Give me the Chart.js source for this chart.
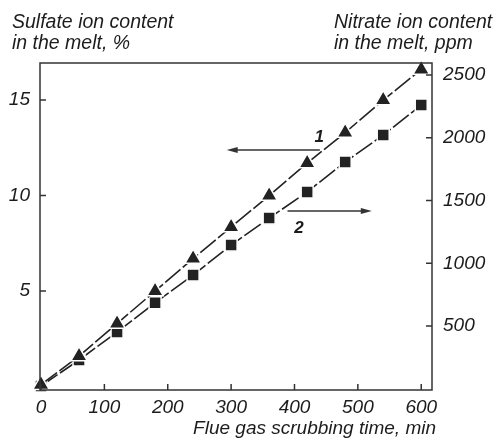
<!DOCTYPE html>
<html>
<head>
<meta charset="utf-8">
<script src="https://cdn.jsdelivr.net/npm/chart.js@4"></script>
<style>
  body { margin: 0; background: #fff; }
  #wrap { width: 494px; height: 439px; position: relative; }
</style>
</head>
<body>
<div id="wrap"><canvas id="grafico" width="494" height="439"></canvas></div>
<script>
// tempo de lavagem (min)
const tempos = [0, 60, 120, 180, 240, 300, 360, 420, 480, 540, 600];
// curva 1 - sulfato, % (eixo esquerdo)
const sulfato = [0.1, 1.6, 3.3, 5.0, 6.7, 8.35, 10.0, 11.7, 13.3, 15.0, 16.6];
// curva 2 - nitrato, ppm (eixo direito)
const nitrato = [22, 229, 452, 685, 906, 1145, 1360, 1568, 1807, 2022, 2261];

const ticksTempo = [0, 100, 200, 300, 400, 500, 600];
const ticksSulfato = [5, 10, 15];
const ticksNitrato = [500, 1000, 1500, 2000, 2500];

const corTraco = '#222';
const fonteEixo = { family: 'Liberation Sans', size: 19, style: 'italic' };

function pontos(valores) {
  return tempos.map((t, i) => ({ x: t, y: valores[i] }));
}

function fixaTicks(lista) {
  return function (scale) {
    scale.ticks = lista.map((v) => ({ value: v }));
  };
}

const moldura = {
  id: 'moldura',
  afterDraw(chart) {
    const ctx = chart.ctx;
    const a = chart.chartArea;
    const sx = chart.scales.x;
    const sy = chart.scales.y;
    const sy2 = chart.scales.y2;
    ctx.save();
    ctx.strokeStyle = '#333';
    ctx.lineWidth = 1.5;
    ctx.strokeRect(a.left, a.top, a.right - a.left, a.bottom - a.top);

    // marcas para dentro
    ctx.beginPath();
    ticksTempo.forEach((v) => {
      const px = sx.getPixelForValue(v);
      ctx.moveTo(px, a.bottom);
      ctx.lineTo(px, a.bottom - 6);
    });
    ticksSulfato.forEach((v) => {
      const py = sy.getPixelForValue(v);
      ctx.moveTo(a.left, py);
      ctx.lineTo(a.left + 6, py);
    });
    ticksNitrato.forEach((v) => {
      const py = sy2.getPixelForValue(v);
      ctx.moveTo(a.right, py);
      ctx.lineTo(a.right - 6, py);
    });
    ctx.stroke();

    // titulos
    ctx.fillStyle = '#1c1c1c';
    ctx.font = 'italic 19.5px "Liberation Sans"';
    ctx.textAlign = 'left';
    ctx.textBaseline = 'alphabetic';
    ctx.fillText('Sulfate ion content', 12, 28);
    ctx.fillText('in the melt, %', 12, 49);
    ctx.fillText('Nitrate ion content', 334, 28);
    ctx.fillText('in the melt, ppm', 334, 49);
    ctx.textAlign = 'right';
    ctx.font = 'italic 19px "Liberation Sans"';
    ctx.fillText('Flue gas scrubbing time, min', 436, 434);

    // rotulos das curvas
    ctx.font = 'italic bold 17px "Liberation Sans"';
    ctx.textAlign = 'center';
    ctx.textBaseline = 'middle';
    ctx.fillText('1', sx.getPixelForValue(439), sy.getPixelForValue(13.05));
    ctx.fillText('2', sx.getPixelForValue(407), sy2.getPixelForValue(1280));

    // setas
    seta(ctx, sx.getPixelForValue(440), sy.getPixelForValue(12.38), sx.getPixelForValue(293), sy.getPixelForValue(12.38));
    seta(ctx, sx.getPixelForValue(389), sy2.getPixelForValue(1416), sx.getPixelForValue(522), sy2.getPixelForValue(1416));
    ctx.restore();
  },
};

function seta(ctx, x1, y1, x2, y2) {
  const dir = x2 > x1 ? 1 : -1;
  ctx.strokeStyle = '#333';
  ctx.fillStyle = '#333';
  ctx.lineWidth = 1.5;
  ctx.beginPath();
  ctx.moveTo(x1, y1);
  ctx.lineTo(x2 - dir * 8, y2);
  ctx.stroke();
  ctx.beginPath();
  ctx.moveTo(x2, y2);
  ctx.lineTo(x2 - dir * 11, y2 - 3);
  ctx.lineTo(x2 - dir * 11, y2 + 3);
  ctx.closePath();
  ctx.fill();
}

const serieBase = {
  borderColor: corTraco,
  backgroundColor: corTraco,
  borderWidth: 1.6,
  borderDash: [20, 3],
  pointBorderColor: '#fff',
  pointBorderWidth: 1.5,
  showLine: true,
  tension: 0,
  clip: false,
};

const rotuloSimples = (v) => String(v);

new Chart(document.getElementById('grafico'), {
  type: 'scatter',
  data: {
    datasets: [
      Object.assign({}, serieBase, {
        label: '1',
        data: pontos(sulfato),
        yAxisID: 'y',
        pointStyle: 'triangle',
        pointRadius: 9.5,
      }),
      Object.assign({}, serieBase, {
        label: '2',
        data: pontos(nitrato),
        yAxisID: 'y2',
        pointStyle: 'rect',
        pointRadius: 8.5,
      }),
    ],
  },
  options: {
    responsive: false,
    animation: false,
    layout: { padding: { top: 63, left: 0, right: 0, bottom: 0 } },
    plugins: {
      legend: { display: false },
      tooltip: { enabled: false },
    },
    scales: {
      x: {
        type: 'linear',
        min: -1.6,
        max: 617,
        afterBuildTicks: fixaTicks(ticksTempo),
        afterFit: (scale) => { scale.height = 49; },
        grid: { display: false, drawTicks: false },
        border: { display: false },
        ticks: { font: fonteEixo, color: '#1c1c1c', padding: 6, maxRotation: 0, callback: rotuloSimples },
      },
      y: {
        position: 'left',
        min: -0.18,
        max: 16.94,
        afterBuildTicks: fixaTicks(ticksSulfato),
        afterFit: (scale) => { scale.width = 40; },
        grid: { display: false, drawTicks: false },
        border: { display: false },
        ticks: { font: fonteEixo, color: '#1c1c1c', padding: 10, callback: rotuloSimples },
      },
      y2: {
        position: 'right',
        min: -10,
        max: 2596,
        afterBuildTicks: fixaTicks(ticksNitrato),
        afterFit: (scale) => { scale.width = 62; },
        grid: { display: false, drawTicks: false },
        border: { display: false },
        ticks: { font: fonteEixo, color: '#1c1c1c', padding: 11, callback: rotuloSimples },
      },
    },
  },
  plugins: [moldura],
});
</script>
</body>
</html>
